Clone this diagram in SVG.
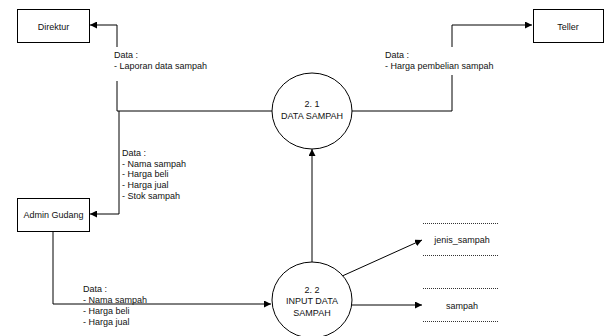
<svg xmlns="http://www.w3.org/2000/svg" width="605" height="336" viewBox="0 0 605 336">
<style>
.box{fill:#fff;stroke:#000;stroke-width:1}
.proc{fill:#fff;stroke:#000;stroke-width:1}
.ln{fill:none;stroke:#000;stroke-width:1}
.dot{fill:none;stroke:#333;stroke-width:1;stroke-dasharray:1 1}
text{font-family:"Liberation Sans",Arial,sans-serif;font-size:9px;fill:#111}
.c{text-anchor:middle}
.bg{fill:#fff;stroke:none}
</style>
<defs>
<marker id="ah" viewBox="0 0 10 10" refX="10" refY="5" markerWidth="7" markerHeight="7" markerUnits="userSpaceOnUse" orient="auto">
<path d="M0,0 L10,5 L0,10 Z" fill="#000"/>
</marker>
</defs>
<rect width="605" height="336" fill="#fff"/>
<g id="connectors">
<path class="ln" d="M273,111 H117 V25 H90" marker-end="url(#ah)"/>
<path class="ln" d="M351,111 H452 V25 H532" marker-end="url(#ah)"/>
<path class="ln" d="M119,111 V214 H90" marker-end="url(#ah)"/>
<path class="ln" d="M53,232 V304 H271" marker-end="url(#ah)"/>
<path class="ln" d="M312,262 V149" marker-end="url(#ah)"/>
<path class="ln" d="M340,277 L422,240" marker-end="url(#ah)"/>
<path class="ln" d="M352,305 H422" marker-end="url(#ah)"/>
</g>
<g id="label-direktur">
<rect class="bg" x="112" y="47" width="104" height="34"/>
<text x="114" y="58">Data :</text>
<text x="114" y="69">- Laporan data sampah</text>
</g>
<g id="label-teller">
<rect class="bg" x="383" y="47" width="122" height="28"/>
<text x="385" y="58">Data :</text>
<text x="385" y="69">- Harga pembelian sampah</text>
</g>
<g id="label-admin">
<text x="122" y="156">Data :</text>
<text x="122" y="167">- Nama sampah</text>
<text x="122" y="177">- Harga beli</text>
<text x="122" y="188">- Harga jual</text>
<text x="122" y="199">- Stok sampah</text>
</g>
<g id="label-input">
<rect class="bg" x="82" y="282" width="73" height="21"/>
<rect class="bg" x="82" y="305" width="73" height="25"/>
<text x="83" y="292">Data :</text>
<text x="83" y="303">- Nama sampah</text>
<text x="83" y="314">- Harga beli</text>
<text x="83" y="325">- Harga jual</text>
</g>
<g id="direktur">
<rect class="box" x="17.5" y="9.5" width="72" height="33"/>
<text class="c" x="53.5" y="30">Direktur</text>
</g>
<g id="teller">
<rect class="box" x="533.5" y="9.5" width="70" height="33"/>
<text class="c" x="568" y="30">Teller</text>
</g>
<g id="admin-gudang">
<rect class="box" x="17.5" y="198.5" width="72" height="33"/>
<text class="c" x="53.5" y="218">Admin Gudang</text>
</g>
<g id="proc-2-1">
<ellipse class="proc" cx="312" cy="111" rx="40" ry="38"/>
<text class="c" x="312" y="107">2. 1</text>
<text class="c" x="312" y="119">DATA SAMPAH</text>
</g>
<g id="proc-2-2">
<ellipse class="proc" cx="312" cy="300" rx="40" ry="38"/>
<text class="c" x="312" y="293">2. 2</text>
<text class="c" x="312" y="304">INPUT DATA</text>
<text class="c" x="312" y="316">SAMPAH</text>
</g>
<g id="store-jenis-sampah">
<line class="dot" x1="423" y1="223.5" x2="498" y2="223.5"/>
<line class="dot" x1="423" y1="255.5" x2="498" y2="255.5"/>
<text class="c" x="462" y="243">jenis_sampah</text>
</g>
<g id="store-sampah">
<line class="dot" x1="423" y1="288.5" x2="498" y2="288.5"/>
<line class="dot" x1="423" y1="321.5" x2="498" y2="321.5"/>
<text class="c" x="462" y="309">sampah</text>
</g>
</svg>
